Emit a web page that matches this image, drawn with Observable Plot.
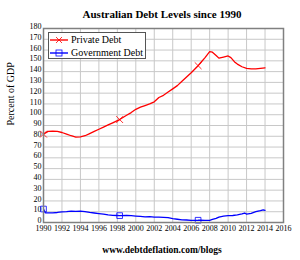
<!DOCTYPE html>
<html>
<head>
<meta charset="utf-8">
<script src="https://cdn.jsdelivr.net/npm/d3@7"></script>
<script src="https://cdn.jsdelivr.net/npm/@observablehq/plot@0.6"></script>
<style>
  html, body { margin: 0; padding: 0; background: #fff; }
  #wrap { position: relative; width: 300px; height: 260px; overflow: hidden; font-family: "Liberation Serif", "DejaVu Serif", serif; }
  #chart svg, #chart svg text { font-family: "Liberation Serif", "DejaVu Serif", serif !important; }
  #title { position: absolute; left: 0; width: 324px; top: 8px; line-height: 13px; text-align: center; font-weight: bold; font-size: 11px; color: #000; }
  #caption { position: absolute; left: 0; width: 324px; top: 244px; line-height: 12px; text-align: center; font-weight: bold; font-size: 9.5px; color: #000; }
  #legend { position: absolute; left: 48px; top: 32px; width: 96px; height: 25px; border: 1px solid #555; background: #fff; font-size: 10px; }
  .row { position: absolute; left: 1px; height: 12px; line-height: 12px; white-space: nowrap; }
  .row svg { position: absolute; left: 0; top: 0; }
  .row span { position: absolute; left: 21px; top: 0px; }
</style>
</head>
<body>
<div id="wrap">
  <div id="chart"></div>
  <div id="title">Australian Debt Levels since 1990</div>
  <div id="legend"></div>
  <div id="caption">www.debtdeflation.com/blogs</div>
</div>
<script>
// ---- data ----
const seriesNames = ["Private Debt", "Government Debt"];
const seriesColors = ["#ff0000", "#0000ff"];
const xTicks = [1990, 1992, 1994, 1996, 1998, 2000, 2002, 2004, 2006, 2008, 2010, 2012, 2014, 2016];
const yTicks = [0, 10, 20, 30, 40, 50, 60, 70, 80, 90, 100, 110, 120, 130, 140, 150, 160, 170, 180];

const privateYears = [1990, 1990.5, 1991, 1991.5, 1992, 1992.5, 1993, 1993.5, 1994, 1994.5, 1995, 1995.5, 1996, 1996.5, 1997, 1997.5, 1998, 1998.25, 1999, 1999.5, 2000, 2000.5, 2001, 2001.5, 2002, 2002.5, 2003, 2003.5, 2004, 2004.5, 2005, 2005.5, 2006, 2006.75, 2007, 2007.5, 2008, 2008.3, 2008.7, 2009, 2009.5, 2010, 2010.3, 2010.7, 2011, 2011.5, 2012, 2012.5, 2013, 2013.5, 2014];
const privateDebt = [82, 84.5, 84.7, 84.5, 83.5, 82, 80.5, 79.3, 79.5, 80.5, 82.5, 84.5, 86.5, 88.5, 90.5, 92.5, 94.5, 95.5, 99.5, 102, 105, 107, 108.5, 110, 112, 116, 118, 121, 124, 127, 131, 135, 139, 145.5, 148, 153, 158.5, 158, 155, 152.5, 153.5, 154.5, 153, 149, 147, 144.5, 143, 142.5, 142.5, 143, 143.5];

const govYears = [1990, 1990.2, 1991, 1991.5, 1992, 1992.5, 1993, 1993.5, 1994, 1994.5, 1995, 1995.5, 1996, 1996.5, 1997, 1997.5, 1998, 1998.25, 1999, 1999.5, 2000, 2000.5, 2001, 2001.5, 2002, 2002.5, 2003, 2003.5, 2004, 2004.5, 2005, 2005.5, 2006, 2006.75, 2007, 2007.5, 2008, 2008.3, 2008.7, 2009, 2009.5, 2010, 2010.5, 2011, 2011.5, 2011.8, 2012, 2012.5, 2013, 2013.5, 2013.8, 2014];
const govDebt = [12.5, 9, 9, 9.3, 9.8, 10, 10.5, 10.3, 10.5, 10, 9.3, 8.8, 8.3, 7.8, 7, 6.7, 6.5, 6.4, 6.5, 6.3, 6, 5.7, 5.3, 5.5, 5, 5, 4.8, 4.5, 3.5, 3, 2.5, 2.3, 2, 2.1, 2.2, 2, 2, 2.8, 3.8, 5, 6, 6.3, 6.5, 7, 8, 8.8, 7.8, 8.5, 10, 11, 11.8, 11.3];

const markerYears = [1990, 1998.25, 2006.75];

// ---- build tables ----
const priv = privateYears.map((x, i) => ({x, y: privateDebt[i]}));
const gov = govYears.map((x, i) => ({x, y: govDebt[i]}));
const privM = priv.filter(d => markerYears.includes(d.x));
const govM = gov.filter(d => markerYears.includes(d.x));

const FF = "Liberation Serif";
const chart = Plot.plot({
  width: 300,
  height: 260,
  marginLeft: 43,
  marginRight: 17,
  marginTop: 28,
  marginBottom: 38,
  style: { fontFamily: FF, fontSize: "8px", background: "#fff", color: "#000", overflow: "visible" },
  x: { domain: [1990, 2016] },
  y: { domain: [0, 180] },
  marks: [
    Plot.gridX(xTicks, { stroke: "#c8c8c8", strokeOpacity: 1 }),
    Plot.gridY(yTicks, { stroke: "#c8c8c8", strokeOpacity: 1 }),
    Plot.axisX(xTicks, { tickSize: 0, tickPadding: 3, tickFormat: d => String(d), label: null, fill: "#000", fontFamily: FF, fontSize: 8 }),
    Plot.axisY(yTicks, { tickSize: 0, tickPadding: 2, dy: -2, label: null, fill: "#000", fontFamily: FF, fontSize: 8 }),
    Plot.text(["Percent of GDP"], { frameAnchor: "left", rotate: -90, dx: -33, fontSize: 10, fill: "#000", fontFamily: FF }),
    Plot.lineY(priv, { x: "x", y: "y", stroke: seriesColors[0], strokeWidth: 1.3 }),
    Plot.lineY(gov, { x: "x", y: "y", stroke: seriesColors[1], strokeWidth: 1.3 }),
    Plot.dot(privM, { x: "x", y: "y", symbol: "times", r: 3.2, stroke: seriesColors[0], strokeWidth: 0.8 }),
    Plot.dot(govM, { x: "x", y: "y", symbol: "square", r: 3.2, stroke: seriesColors[1], strokeWidth: 0.8, fill: "none" }),
    Plot.frame({ stroke: "#808080", strokeWidth: 1.5 })
  ]
});
document.getElementById("chart").appendChild(chart);

// ---- legend ----
const legend = document.getElementById("legend");
seriesNames.forEach((name, i) => {
  const row = document.createElement("div");
  row.className = "row";
  row.style.top = (1 + i * 12.5) + "px";
  const c = seriesColors[i];
  const marker = i === 0
    ? `<path d="M6,3 L12,9 M12,3 L6,9" stroke="${c}" stroke-width="0.8"/>`
    : `<rect x="6" y="3" width="6" height="6" fill="none" stroke="${c}" stroke-width="0.8"/>`;
  row.innerHTML = `<svg width="18" height="12"><line x1="0" y1="6" x2="18" y2="6" stroke="${c}" stroke-width="1.4"/>${marker}</svg><span>${name}</span>`;
  legend.appendChild(row);
});
</script>
</body>
</html>
